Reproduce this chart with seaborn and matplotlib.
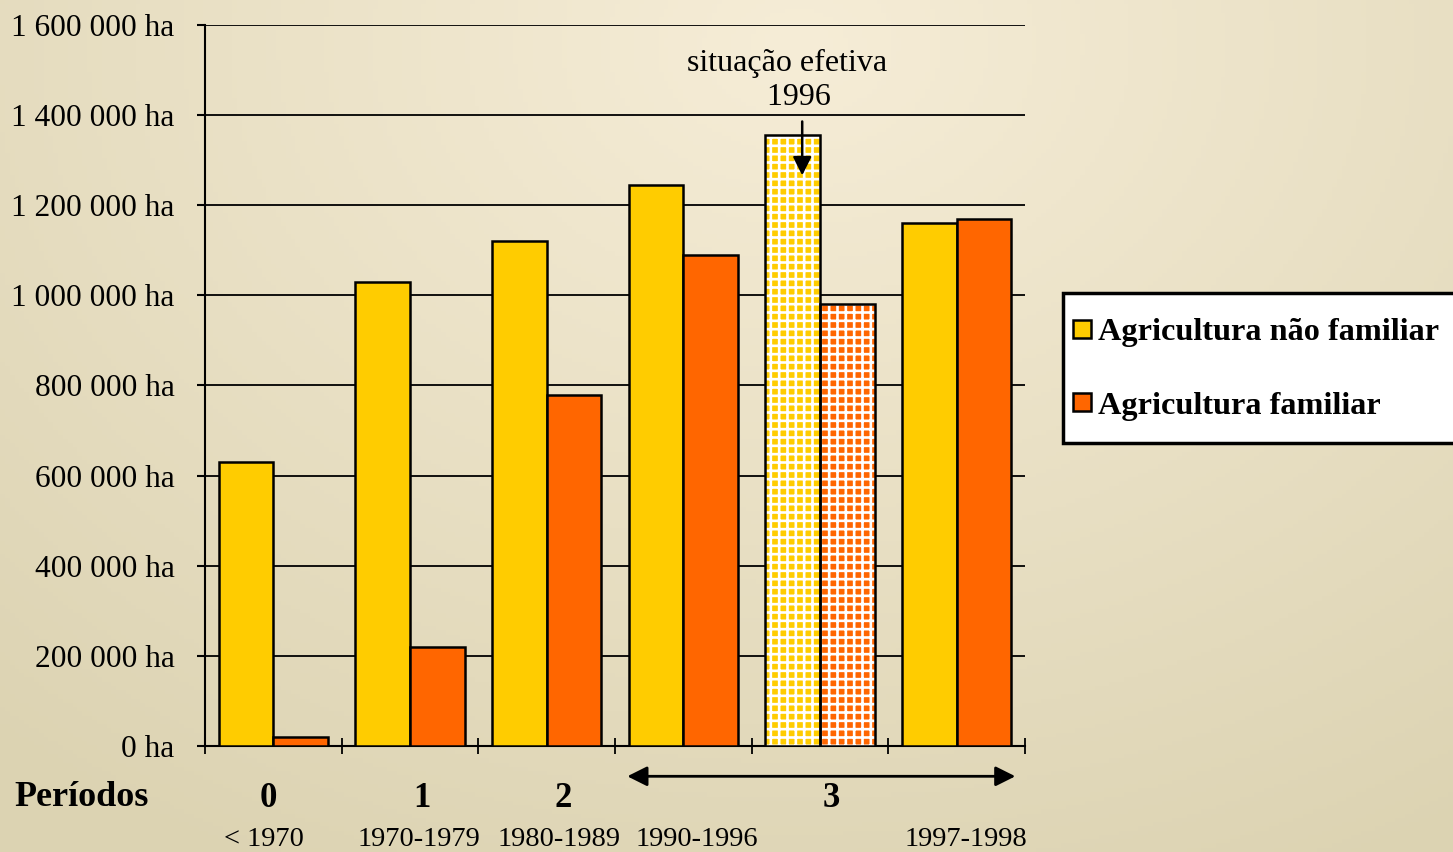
import numpy as np
import pandas as pd
import matplotlib.pyplot as plt
import seaborn as sns
from matplotlib.patches import Rectangle
from matplotlib.lines import Line2D

# Data (hectares)
groups = ['< 1970', '1970-1979', '1980-1989', '1990-1996', '1996 efetiva', '1997-1998']
year_labels = ['< 1970', '1970-1979', '1980-1989', '1990-1996', '1997-1998']
year_pos = [-0.07, 1.065, 2.09, 3.1, 5.07]
nao_familiar = [630000, 1030000, 1120000, 1245000, 1355000, 1160000]
familiar = [20000, 220000, 780000, 1090000, 980000, 1170000]
series = ['Agricultura não familiar', 'Agricultura familiar']
periods = ['0', '1', '2', '3']
period_pos = [-0.04, 1.09, 2.12, 4.08]
hatched_group = 4

colors = {'Agricultura não familiar': '#FFCC00', 'Agricultura familiar': '#FF6600'}

df = pd.DataFrame({
    'grupo': groups * 2,
    'area': nao_familiar + familiar,
    'serie': [series[0]] * len(groups) + [series[1]] * len(groups),
})

sns.set_style('white')
plt.rcParams['font.family'] = ['Liberation Serif', 'DejaVu Serif']
plt.rcParams['hatch.linewidth'] = 1.9
for k in ['text.color', 'axes.labelcolor', 'xtick.color', 'ytick.color']:
    plt.rcParams[k] = 'black'

fig = plt.figure(figsize=(14.53, 8.52), dpi=100)

# beige gradient background
bg = fig.add_axes([0, 0, 1, 1], zorder=-10)
xx, yy = np.meshgrid(np.linspace(0, 1, 300), np.linspace(0, 1, 200))
t = np.clip(np.sqrt(((xx - 0.55) / 0.85) ** 2 + ((yy - 0.05) / 1.1) ** 2), 0, 1)
light = np.array([246, 237, 215]) / 255
dark = np.array([220, 211, 178]) / 255
img = light[None, None, :] * (1 - t[..., None]) + dark[None, None, :] * t[..., None]
bg.imshow(img, aspect='auto', extent=[0, 1, 0, 1], origin='upper')
bg.axis('off')

ax = fig.add_axes([0.1411, 0.1244, 0.5643, 0.8463])
ax.patch.set_alpha(0)

sns.barplot(data=df, x='grupo', y='area', hue='serie', order=groups, hue_order=series,
            palette=colors, edgecolor='black', linewidth=1.8, saturation=1,
            legend=False, ax=ax, zorder=3)

# dotted look for the "situação efetiva 1996" bars: white grid over the colour
for p in list(ax.patches):
    cx = p.get_x() + p.get_width() / 2
    if abs(cx - hatched_group) < 0.5:
        p.set_edgecolor('white')
        p.set_linewidth(0)
        p.set_hatch('++')
        ax.add_patch(Rectangle((p.get_x(), 0), p.get_width(), p.get_height(),
                               fill=False, edgecolor='black', linewidth=1.8, zorder=4))

ax.set_xlim(-0.5, len(groups) - 0.5)
ax.set_ylim(0, 1600000)
yt = np.arange(0, 1600001, 200000)
ax.set_yticks(yt)
ax.set_yticklabels([f'{v:,.0f}'.replace(',', ' ') + ' ha' for v in yt], fontsize=22.6)
ax.yaxis.grid(True, color='black', linewidth=1.3, zorder=0)
ax.set_axisbelow(True)
ax.tick_params(axis='y', direction='out', length=6, width=1.5, pad=16, left=True)

ax.set_xticks([])
ax.set_xticks(np.arange(-0.5, len(groups)), minor=True)
ax.tick_params(axis='x', which='minor', direction='inout', length=12, width=1.3, bottom=True)
ax.set_xlabel('')
ax.set_ylabel('')

for s in ['top', 'right']:
    ax.spines[s].set_visible(False)
for s in ['left', 'bottom']:
    ax.spines[s].set_color('black')
    ax.spines[s].set_linewidth(1.5)

# x labels: periods and years
tr = ax.get_xaxis_transform()
for lab, pos in zip(periods, period_pos):
    ax.text(pos, -0.073, lab, transform=tr, ha='center', va='center',
            fontsize=25, fontweight='bold')
for lab, pos in zip(year_labels, year_pos):
    ax.text(pos, -0.13, lab, transform=tr, ha='center', va='center', fontsize=20.5)
fig.text(0.056, 0.064, 'Períodos', ha='center', va='center', fontsize=26, fontweight='bold')

ax.annotate('', xy=(5.45, -0.042), xytext=(2.57, -0.042), xycoords=tr, textcoords=tr,
            arrowprops=dict(arrowstyle='<|-|>', color='black', lw=2, mutation_scale=30),
            annotation_clip=False)

# annotation for the effective situation in 1996
bar_x = hatched_group - 0.2 + 0.07
ax.text(3.76, 1477000, 'situação efetiva\n   1996', ha='center', va='center',
        fontsize=23, linespacing=1.22)
ax.annotate('', xy=(bar_x, 1260000), xytext=(bar_x, 1392000),
            arrowprops=dict(arrowstyle='-|>', color='black', lw=1.8, mutation_scale=28),
            zorder=6)

# legend box drawn separately so its size can follow the reference
fig.add_artist(Rectangle((0.7316, 0.480), 0.29, 0.176, transform=fig.transFigure,
                         facecolor='white', edgecolor='black', linewidth=2.5, zorder=1))
handles = [Line2D([], [], linestyle='none', marker='s', markersize=12.5,
                  markerfacecolor=colors[s], markeredgecolor='black', markeredgewidth=1.8)
           for s in series]
leg = fig.legend(handles, series, loc='center left', bbox_to_anchor=(0.7316, 0.567),
                 prop={'weight': 'bold', 'size': 23.2}, frameon=False,
                 handlelength=0.55, handleheight=0.7, labelspacing=1.37,
                 borderpad=0.3, handletextpad=0.25, borderaxespad=0)

fig.savefig('out.png', dpi=100)
